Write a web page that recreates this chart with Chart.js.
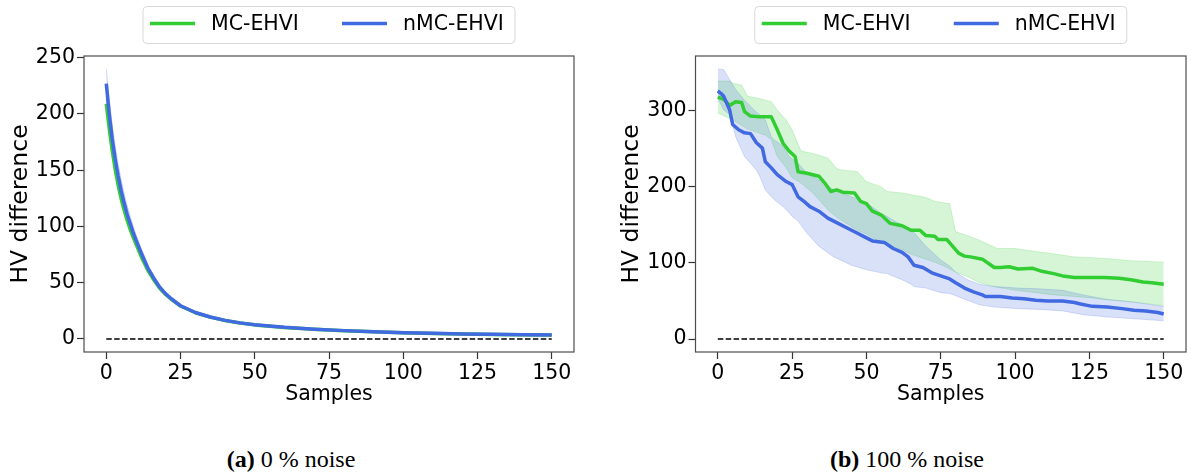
<!DOCTYPE html>
<html>
<head>
<meta charset="utf-8">
<script src="https://cdn.jsdelivr.net/npm/chart.js@4.4.1/dist/chart.umd.min.js"></script>
<style>
  body { margin: 0; background: #fff; }
  #wrap { position: relative; width: 1191px; height: 476px; background: #fff; overflow: hidden; }
  canvas { position: absolute; top: 0; }
  .cap { position: absolute; top: 446px; width: 300px; text-align: center; font-family: "Liberation Serif", "DejaVu Serif", serif; font-size: 24px; color: #000; white-space: nowrap; }
</style>
</head>
<body>
<div id="wrap">
  <canvas id="left" width="610" height="420" style="left:0"></canvas>
  <canvas id="right" width="581" height="420" style="left:610px"></canvas>
  <div class="cap" style="left:141px"><b>(a)</b> 0 % noise</div>
  <div class="cap" style="left:757px"><b>(b)</b> 100 % noise</div>
</div>
<script>
// --- tick labels / names ---
const seriesNames = ['MC-EHVI', 'nMC-EHVI'];
const xTicks = [0, 25, 50, 75, 100, 125, 150];
const leftYTicks = [0, 50, 100, 150, 200, 250];
const rightYTicks = [0, 100, 200, 300];

// --- (a) 0 % noise : shared sample positions ---
const noise0X = [0, 1, 2, 3, 4, 5, 6, 7, 8, 9, 10, 12, 14, 16, 18, 20, 22, 25, 30, 35, 40, 45, 50, 60, 70, 80, 90, 100, 110, 120, 130, 140, 150];
const noise0Green = [209, 187, 168, 151, 137, 125, 115, 106, 98, 91, 84.5, 72, 61, 52.5, 45, 39.5, 35, 29.3, 23.3, 19.4, 16.4, 14.2, 12.5, 10.2, 8.6, 7.3, 6.3, 5.5, 4.9, 4.4, 4, 3.7, 3.4];
const noise0GreenHi = [218, 196, 176, 158, 143, 131, 120, 110.5, 102, 94.5, 87.5, 74.5, 63, 54, 46.3, 40.5, 35.8, 30, 23.8, 19.8, 16.8, 14.5, 12.8, 10.4, 8.8, 7.5, 6.5, 5.7, 5.1, 4.6, 4.2, 3.9, 3.6];
const noise0GreenLo = [200, 178, 160, 144, 131, 119, 110, 101.5, 94, 87.5, 81.5, 69.5, 59, 51, 43.7, 38.5, 34.2, 28.6, 22.8, 19, 16, 13.9, 12.2, 10, 8.4, 7.1, 6.1, 5.3, 4.7, 4.2, 3.8, 3.5, 3.2];
const noise0Blue = [227, 200, 178, 160, 145, 132, 121, 111, 103, 95, 88, 75, 63, 54, 46, 40, 35.5, 29.5, 23.5, 19.5, 16.5, 14.3, 12.6, 10.3, 8.7, 7.4, 6.4, 5.6, 5, 4.5, 4.1, 3.8, 3.5];
const noise0BlueHi = [240, 214, 191, 172, 156, 142, 130, 119, 110, 101, 93, 79, 66, 56.5, 48, 41.5, 36.8, 30.5, 24.2, 20, 17, 14.7, 13, 10.6, 9, 7.7, 6.7, 5.9, 5.3, 4.8, 4.4, 4.1, 3.8];
const noise0BlueLo = [214, 187, 166, 149, 134, 122, 112, 103, 96, 89, 83, 71, 60, 51.5, 44, 38.5, 34.2, 28.5, 22.8, 19, 16, 13.9, 12.2, 10, 8.4, 7.1, 6.1, 5.3, 4.7, 4.2, 3.8, 3.5, 3.2];

// --- (b) 100 % noise ---
const greenLineX = [0, 2, 4, 6, 8, 9, 11, 14, 18, 20, 22, 24, 26, 27, 30, 34, 36, 38, 40, 42, 46, 48, 50, 52, 55, 58, 62, 65, 68, 70, 73, 74, 77, 81, 83, 85, 89, 93, 95, 98, 101, 106, 109, 113, 116, 120, 125, 130, 135, 139, 143, 146, 150];
const greenLineY = [318, 315, 307, 312, 311, 299, 293, 292, 292, 275, 257, 247, 240, 220, 218, 214, 205, 194, 196, 193, 192, 181, 178, 168, 163, 152, 149, 143, 143, 136, 135, 131, 131, 113, 109, 108, 105, 94, 94, 95, 92, 93, 89, 86, 83, 81, 81, 81, 80, 78, 75, 74, 72];
const blueLineX = [0, 1, 2, 4, 5, 7, 9, 11, 13, 15, 16, 18, 20, 23, 25, 27, 29, 31, 34, 37, 40, 43, 47, 50, 52, 56, 59, 62, 64, 66, 69, 72, 75, 78, 80, 83, 86, 89, 90, 95, 99, 103, 107, 111, 116, 120, 122, 126, 131, 136, 140, 144, 148, 150];
const blueLineY = [326, 323, 319, 301, 282, 275, 271, 270, 258, 251, 233, 225, 216, 207, 203, 187, 181, 174, 168, 159, 153, 147, 139, 133, 129, 127, 119, 114, 108, 97, 94, 87, 83, 79, 74, 67, 62, 58, 56, 56, 54, 53, 51, 50, 50, 48, 46, 43, 42, 40, 38, 37, 35, 33];
const greenBandX = [0, 4, 5, 8, 10, 13, 16, 18, 20, 23, 25, 28, 32, 37, 40, 42, 47, 50, 55, 57, 62, 66, 70, 73, 76, 78, 80, 84, 88, 94, 100, 107, 113, 120, 126, 130, 139, 150];
const greenBandHi = [339, 339, 336, 334, 319, 317, 314, 312, 301, 288, 275, 247, 244, 238, 224, 222, 220, 207, 200, 194, 192, 189, 186, 181, 179, 178, 141, 136, 130, 119, 119, 115, 112, 108, 107, 106, 103, 101];
const greenBandLo = [297, 290, 288, 281, 276, 272, 268, 262, 240, 225, 212, 205, 192, 170, 160, 155, 143, 138, 127, 124, 117, 110, 105, 101, 96, 92, 88, 82, 74, 68, 64, 61, 58, 56, 54, 52, 49, 44];
const blueBandX = [0, 2, 4, 6, 9, 13, 14, 16, 18, 19, 22, 24, 25, 27, 30, 34, 39, 45, 50, 55, 57, 60, 62, 65, 66, 70, 75, 78, 80, 84, 88, 93, 101, 108, 116, 123, 131, 139, 150];
const blueBandHi = [355, 354, 341, 328, 314, 298, 295, 288, 266, 262, 253, 240, 237, 231, 218, 209, 196, 187, 179, 165, 161, 154, 150, 143, 140, 122, 104, 96, 88, 78, 72, 69, 67, 66, 64, 58, 52, 49, 43];
const blueBandLo = [317, 301, 295, 266, 240, 222, 215, 196, 187, 183, 174, 166, 161, 155, 139, 122, 108, 97, 91, 87, 86, 81, 78, 72, 69, 67, 61, 60, 57, 51, 45, 42, 40, 39, 37, 32, 29, 27, 24];

const zeroLineX = [0, 150];
const zeroLineY = [0, 0];

const GREEN = '#32cd32';
const BLUE = '#4169e1';
const GREEN_BAND = 'rgba(50, 205, 50, 0.2)';
const BLUE_BAND = 'rgba(65, 105, 225, 0.2)';
const FONT_SIZE = 20.5;
const YLABEL_SIZE = 23.5;

Chart.defaults.font.family = '"DejaVu Sans", sans-serif';
Chart.defaults.color = '#000';

const pts = (xs, ys) => xs.map((x, i) => ({ x: x, y: ys[i] }));

// frame round the plot area + matplotlib style legend box
const frameAndLegend = {
  id: 'frameAndLegend',
  afterDraw(chart, args, opts) {
    const { ctx, chartArea: a } = chart;
    const cx = (a.left + a.right) / 2;
    ctx.save();
    ctx.strokeStyle = '#4d4d4d';
    ctx.lineWidth = 1.2;
    ctx.strokeRect(a.left, a.top, a.right - a.left, a.bottom - a.top);

    ctx.beginPath();
    ctx.roundRect(cx - opts.half, 6.5, opts.half * 2, 37, 4);
    ctx.fillStyle = 'rgba(255,255,255,0.8)';
    ctx.fill();
    ctx.strokeStyle = '#d8d8d8';
    ctx.lineWidth = 1;
    ctx.stroke();

    const items = chart.data.datasets.filter(d => d.inLegend);
    ctx.font = FONT_SIZE + 'px "DejaVu Sans"';
    ctx.textBaseline = 'middle';
    items.forEach((d, i) => {
      const slot = opts.slots[i];
      ctx.beginPath();
      ctx.moveTo(cx + slot[0], 23.5);
      ctx.lineTo(cx + slot[1], 23.5);
      ctx.strokeStyle = d.borderColor;
      ctx.lineWidth = 3.5;
      ctx.stroke();
      ctx.fillStyle = '#000';
      ctx.fillText(d.label, cx + slot[2], 24.5);
    });
    ctx.restore();
  }
};

function band(data, color, order, fill) {
  return { data: data, fill: fill, backgroundColor: color, borderColor: color, borderWidth: 1,
           pointRadius: 0, order: order };
}

function line(label, data, color, order) {
  return { label: label, inLegend: true, data: data, borderColor: color, borderWidth: 3.5, fill: false,
           pointRadius: 0, borderJoinStyle: 'round', order: order };
}

function makeChart(id, cfg) {
  return new Chart(document.getElementById(id), {
    type: 'line',
    data: {
      datasets: [
        band(cfg.greenHi, GREEN_BAND, 5, '+1'),
        band(cfg.greenLo, GREEN_BAND, 5, false),
        band(cfg.blueHi, BLUE_BAND, 4, '+1'),
        band(cfg.blueLo, BLUE_BAND, 4, false),
        line(seriesNames[0], cfg.green, GREEN, 2),
        line(seriesNames[1], cfg.blue, BLUE, 1),
        { data: pts(zeroLineX, zeroLineY), borderColor: '#000', borderWidth: 1.5, borderDash: [5.5, 2.4],
          pointRadius: 0, fill: false, order: 0 }
      ]
    },
    options: {
      responsive: false,
      animation: false,
      devicePixelRatio: 1,
      events: [],
      layout: { padding: { left: 0, right: cfg.padRight, top: 56, bottom: 0 } },
      plugins: {
        legend: { display: false },
        tooltip: { enabled: false },
        frameAndLegend: { half: 186, slots: [[-179, -134, -118], [13, 58, 74]] }
      },
      scales: {
        x: {
          type: 'linear', min: -7.5, max: 157.5,
          afterBuildTicks: s => { s.ticks = xTicks.map(v => ({ value: v })); },
          afterFit: s => { s.height = 68; },
          grid: { drawOnChartArea: false, tickLength: 7, color: '#333', tickWidth: 1.2 },
          border: { display: false },
          ticks: { font: { size: FONT_SIZE }, color: '#000', padding: 2, maxRotation: 0, autoSkip: false },
          title: { display: true, text: 'Samples', font: { size: FONT_SIZE }, color: '#000', padding: { top: 0, bottom: 12.7 } }
        },
        y: {
          min: cfg.yMin, max: cfg.yMax,
          afterBuildTicks: s => { s.ticks = cfg.yTicks.map(v => ({ value: v })); },
          afterFit: s => { s.width = cfg.yWidth; },
          grid: { drawOnChartArea: false, tickLength: 7, color: '#333', tickWidth: 1.2 },
          border: { display: false },
          ticks: { font: { size: FONT_SIZE }, color: '#000', padding: 2, autoSkip: false },
          title: { display: true, text: 'HV difference', font: { size: YLABEL_SIZE }, color: '#000', padding: { top: cfg.yTitlePad, bottom: 0 } }
        }
      }
    },
    plugins: [frameAndLegend]
  });
}

makeChart('left', {
  green: pts(noise0X, noise0Green), greenHi: pts(noise0X, noise0GreenHi), greenLo: pts(noise0X, noise0GreenLo),
  blue: pts(noise0X, noise0Blue), blueHi: pts(noise0X, noise0BlueHi), blueLo: pts(noise0X, noise0BlueLo),
  yMin: -11.6, yMax: 251.5, yTicks: leftYTicks, yWidth: 84, padRight: 36, yTitlePad: 6.9
});

makeChart('right', {
  green: pts(greenLineX, greenLineY), greenHi: pts(greenBandX, greenBandHi), greenLo: pts(greenBandX, greenBandLo),
  blue: pts(blueLineX, blueLineY), blueHi: pts(blueBandX, blueBandHi), blueLo: pts(blueBandX, blueBandLo),
  yMin: -17, yMax: 372, yTicks: rightYTicks, yWidth: 85.5, padRight: 5, yTitlePad: 7.9
});
</script>
</body>
</html>
